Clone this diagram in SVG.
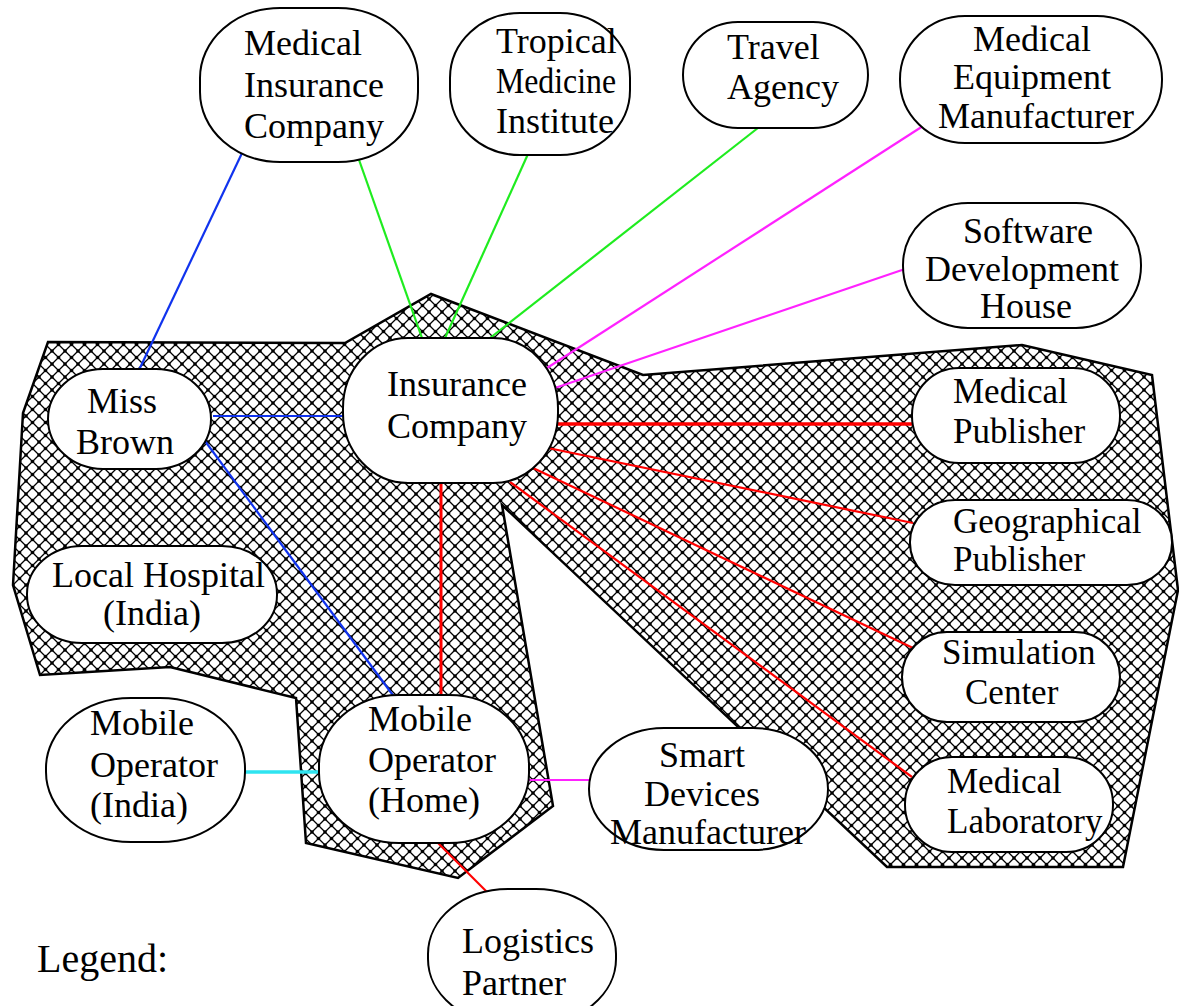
<svg xmlns="http://www.w3.org/2000/svg" width="1179" height="1006" viewBox="0 0 1179 1006">
<style>
.n{fill:#fff;stroke:#000;stroke-width:2}
.t{font-family:"Liberation Serif","Times New Roman",serif;font-size:36px;fill:#000}
.tr{font-family:"Liberation Serif","Times New Roman",serif;font-size:35px;fill:#000}
.c{fill:none;stroke-width:2.2;stroke-linecap:butt}
.b{stroke:#1033ee}.g{stroke:#1fec1f}.m{stroke:#f2f}.r{stroke:#f00}.cy{stroke:#2ee4f0}
</style>
<defs>
<pattern id="hatch" width="13" height="13" patternUnits="userSpaceOnUse">
<rect width="13" height="13" fill="#fff"/>
<path d="M0,0L13,13M13,0L0,13" stroke="#000" stroke-width="1.3"/>
<circle cx="0" cy="0" r="1.8"/><circle cx="13" cy="0" r="1.8"/><circle cx="0" cy="13" r="1.8"/><circle cx="13" cy="13" r="1.8"/><circle cx="6.5" cy="6.5" r="1.8"/>
</pattern>
</defs>
<rect width="1179" height="1006" fill="#fff"/>
<g id="region">
<polygon points="48,342 345,343 431,294 643,375 1022,345 1152,375 1178,590 1123,867 887,867 502,505 553,806 458,878 306,843 296,698 170,667 40,675 13,585 23,413" fill="url(#hatch)" stroke="#000" stroke-width="2.5" stroke-linejoin="miter"/>
</g>
<g id="connectors">
<line class="c b" x1="243" y1="151" x2="139" y2="370"/>
<line class="c b" x1="213" y1="416" x2="343" y2="416"/>
<line class="c b" x1="205" y1="441" x2="395" y2="698"/>
<line class="c g" x1="358" y1="157" x2="422" y2="338"/>
<line class="c g" x1="528" y1="154" x2="445" y2="338"/>
<line class="c g" x1="763" y1="124" x2="490" y2="338"/>
<line class="c m" x1="923" y1="126" x2="547" y2="368"/>
<line class="c m" x1="905" y1="269" x2="555" y2="388"/>
<line class="c m" x1="527" y1="780" x2="593" y2="780"/>
<line class="c r" style="stroke-width:3.5" x1="556" y1="424" x2="915" y2="424"/>
<line class="c r" x1="548" y1="448" x2="913" y2="523"/>
<line class="c r" x1="533" y1="468" x2="913" y2="648"/>
<line class="c r" x1="510" y1="482" x2="912" y2="777"/>
<line class="c r" style="stroke-width:3" x1="441" y1="483" x2="441" y2="696"/>
<line class="c r" x1="438" y1="843" x2="510" y2="915"/>
<line class="c cy" style="stroke-width:3.5" x1="242" y1="772" x2="324" y2="772"/>
</g>
<g id="n-medical-insurance">
<rect class="n" x="200" y="8" width="218" height="154" rx="80" ry="70"/>
<text class="t" x="244" y="55">Medical</text><text class="t" x="244" y="97">Insurance</text><text class="t" x="244" y="138">Company</text>
</g>
<g id="n-tropical">
<rect class="n" x="450" y="13" width="180" height="142" rx="70" ry="65"/>
<text class="t" x="496" y="53">Tropical</text><text class="t" x="496" y="93" textLength="120" lengthAdjust="spacingAndGlyphs">Medicine</text><text class="t" x="496" y="133">Institute</text>
</g>
<g id="n-travel">
<rect class="n" x="683" y="22" width="185" height="106" rx="55" ry="53"/>
<text class="t" x="727" y="59">Travel</text><text class="t" x="727" y="99">Agency</text>
</g>
<g id="n-equipment">
<rect class="n" x="900" y="16" width="262" height="127" rx="65" ry="63"/>
<text class="t" x="1032" y="51" text-anchor="middle">Medical</text><text class="t" x="1032" y="89" text-anchor="middle">Equipment</text><text class="t" x="1036" y="128" text-anchor="middle">Manufacturer</text>
</g>
<g id="n-software">
<rect class="n" x="903" y="203" width="238" height="125" rx="65" ry="62"/>
<text class="t" x="1028" y="243" text-anchor="middle">Software</text><text class="t" x="1022" y="281" text-anchor="middle">Development</text><text class="t" x="1026" y="318" text-anchor="middle">House</text>
</g>
<g id="n-insurance">
<rect class="n" x="343" y="338" width="215" height="145" rx="65" ry="70"/>
<text class="t" x="387" y="396">Insurance</text><text class="t" x="387" y="438">Company</text>
</g>
<g id="n-miss-brown">
<rect class="n" x="48" y="369" width="163" height="100" rx="55" ry="50"/>
<text class="t" x="87" y="413">Miss</text><text class="t" x="76" y="454">Brown</text>
</g>
<g id="n-local-hospital">
<rect class="n" x="27" y="546" width="250" height="97" rx="55" ry="48"/>
<text class="t" x="52" y="587">Local Hospital</text><text class="t" x="103" y="625">(India)</text>
</g>
<g id="n-mobile-india">
<rect class="n" x="46" y="698" width="199" height="144" rx="85" ry="70"/>
<text class="t" x="90" y="735">Mobile</text><text class="t" x="90" y="777">Operator</text><text class="t" x="90" y="817">(India)</text>
</g>
<g id="n-mobile-home">
<rect class="n" x="319" y="695" width="210" height="148" rx="80" ry="70"/>
<text class="t" x="368" y="731">Mobile</text><text class="t" x="368" y="772">Operator</text><text class="t" x="368" y="812">(Home)</text>
</g>
<g id="n-smart">
<rect class="n" x="589" y="728" width="239" height="122" rx="75" ry="61"/>
<text class="t" x="702" y="767" text-anchor="middle">Smart</text><text class="t" x="702" y="806" text-anchor="middle">Devices</text><text class="t" x="708" y="844" text-anchor="middle">Manufacturer</text>
</g>
<g id="n-logistics">
<rect class="n" x="428" y="889" width="188" height="135" rx="80" ry="65"/>
<text class="t" x="462" y="953">Logistics</text><text class="t" x="462" y="995">Partner</text>
</g>
<g id="n-med-publisher">
<rect class="n" x="912" y="368" width="208" height="95" rx="47" ry="47"/>
<text class="tr" x="953" y="403">Medical</text><text class="tr" x="953" y="443">Publisher</text>
</g>
<g id="n-geo-publisher">
<rect class="n" x="910" y="500" width="262" height="85" rx="45" ry="42"/>
<text class="tr" x="953" y="533">Geographical</text><text class="tr" x="953" y="571">Publisher</text>
</g>
<g id="n-simulation">
<rect class="n" x="902" y="632" width="218" height="90" rx="45" ry="45"/>
<text class="tr" x="942" y="664">Simulation</text><text class="tr" x="965" y="704">Center</text>
</g>
<g id="n-laboratory">
<rect class="n" x="905" y="757" width="208" height="95" rx="47" ry="47"/>
<text class="tr" x="947" y="793">Medical</text><text class="tr" x="947" y="833">Laboratory</text>
</g>
<text class="t" x="37" y="972" style="font-size:40px">Legend:</text>
</svg>
